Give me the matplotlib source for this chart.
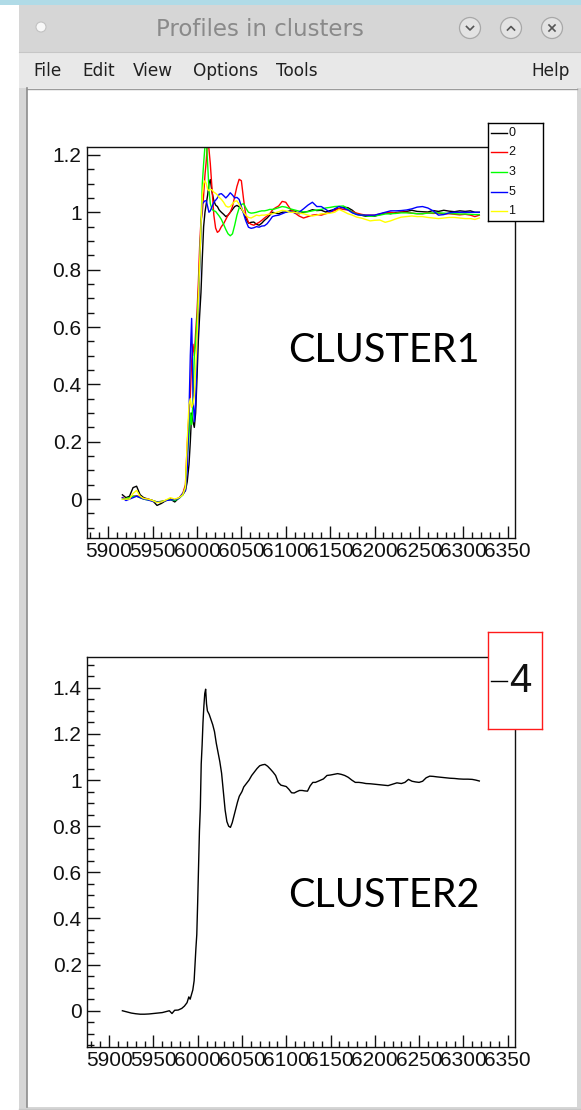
#perfis de absorção agrupados em clusters (janela do ROOT)

import numpy as np
import matplotlib
matplotlib.use('Agg')
import matplotlib.pyplot as plt
from matplotlib.patches import Rectangle, Circle
from matplotlib.colors import LinearSegmentedColormap
from matplotlib.ticker import MultipleLocator, FuncFormatter

plt.rcParams['font.family'] = ['Liberation Sans', 'DejaVu Sans']

#grade de energia (eV) comum aos perfis do cluster 1
energia1 = ([5916, 5920, 5924, 5928, 5932, 5936, 5940, 5945, 5950, 5955, 5960, 5965, 5970, 5975, 5980, 5984, 5987]
            + [5989, 5991, 5992.5, 5994, 5995.5, 5997, 5998.5, 6000, 6001.5, 6003, 6004.5, 6006, 6007.5, 6009,
               6010.5, 6012, 6013.5, 6015, 6017, 6019]
            + [6021, 6023, 6025, 6027.5, 6030, 6032.5, 6035, 6037.5, 6040, 6042.5, 6045, 6047.5, 6050, 6052.5,
               6055, 6058, 6061, 6064, 6067, 6070, 6073, 6076, 6079, 6082, 6085, 6088, 6092, 6096]
            + [6100, 6105, 6110, 6115, 6120, 6125, 6130, 6135, 6140, 6145, 6150, 6155, 6160, 6165, 6170, 6175,
               6180, 6185, 6190, 6195, 6200, 6206, 6212, 6218, 6224, 6230, 6236, 6242, 6248, 6254, 6260, 6266,
               6272, 6278, 6284, 6290, 6296, 6302, 6308, 6313, 6318])

perfil_0 = ([0.015, 0.005, 0.010, 0.040, 0.045, 0.015, 0.005, 0.000, -0.005, -0.022, -0.015, -0.005, 0.000, -0.010, 0.005, 0.015, 0.030]
            + [0.06, 0.12, 0.20, 0.30, 0.27, 0.25, 0.30, 0.42, 0.55, 0.64, 0.72, 0.84, 0.95, 1.00, 1.03, 1.06, 1.10, 1.114, 1.07, 1.04]
            + [1.025, 1.020, 1.008, 1.000, 0.993, 0.985, 0.990, 1.000, 1.010, 1.020, 1.024, 1.019, 1.012, 1.000,
               0.980, 0.962, 0.965, 0.966, 0.958, 0.955, 0.962, 0.972, 0.980, 0.990, 1.000, 0.998, 0.995, 1.000]
            + [1.001, 1.005, 1.004, 0.995, 1.000, 1.003, 1.009, 1.006, 1.007, 1.001, 1.006, 1.010, 1.013, 1.018,
               1.016, 1.007, 0.993, 0.990, 0.986, 0.988, 0.986, 0.993, 0.998, 0.995, 0.999, 1.001, 1.003, 1.007,
               1.003, 1.002, 1.001, 1.006, 1.003, 1.007, 1.004, 1.002, 1.005, 1.003, 1.005, 1.000, 1.000])

perfil_2 = ([0.005, 0.000, 0.005, 0.010, 0.012, 0.008, 0.002, 0.000, -0.005, -0.010, -0.008, -0.005, 0.000, -0.002, 0.005, 0.020, 0.050]
            + [0.19, 0.30, 0.36, 0.48, 0.54, 0.50, 0.58, 0.65, 0.75, 0.88, 0.97, 1.00, 1.06, 1.13, 1.18, 1.26, 1.22, 1.17, 1.08, 0.99]
            + [0.945, 0.930, 0.935, 0.950, 0.960, 0.975, 0.990, 1.000, 1.020, 1.055, 1.090, 1.115, 1.110, 1.045,
               0.990, 0.965, 0.958, 0.955, 0.960, 0.965, 0.972, 0.980, 0.987, 0.995, 1.008, 1.015, 1.022, 1.038]
            + [1.035, 1.012, 0.998, 0.987, 0.980, 0.985, 0.990, 0.992, 0.990, 0.995, 1.000, 1.006, 1.013, 1.010,
               1.008, 1.003, 0.997, 0.993, 0.990, 0.990, 0.990, 0.994, 0.998, 1.000, 0.997, 1.001, 1.000, 0.997,
               0.995, 0.995, 0.998, 0.996, 0.997, 0.994, 0.995, 0.993, 0.991, 0.993, 0.990, 0.985, 0.990])

perfil_3 = ([0.000, 0.002, 0.005, 0.010, 0.010, 0.005, 0.000, -0.003, -0.005, -0.010, -0.008, -0.005, -0.002, -0.005, 0.003, 0.015, 0.040]
            + [0.15, 0.22, 0.30, 0.26, 0.34, 0.50, 0.55, 0.62, 0.70, 0.82, 0.95, 1.10, 1.17, 1.23, 1.26, 1.17, 1.08, 1.03, 1.01, 1.005]
            + [1.003, 0.995, 0.987, 0.975, 0.958, 0.940, 0.925, 0.918, 0.925, 0.955, 0.990, 1.015, 1.027, 1.030,
               1.015, 1.000, 0.997, 0.998, 1.000, 1.003, 1.005, 1.005, 1.007, 1.010, 1.010, 1.012, 1.016, 1.020]
            + [1.018, 1.012, 1.008, 1.004, 1.001, 1.002, 1.005, 1.008, 1.010, 1.015, 1.017, 1.020, 1.021, 1.022,
               1.012, 1.000, 0.993, 0.990, 0.988, 0.986, 0.987, 0.990, 0.994, 0.995, 0.996, 0.998, 0.998, 0.997,
               0.995, 0.995, 0.997, 0.998, 0.998, 0.997, 0.996, 0.995, 0.994, 0.994, 0.993, 0.992, 0.992])

perfil_5 = ([0.005, -0.005, 0.000, 0.005, 0.010, 0.005, 0.000, -0.003, -0.008, -0.010, -0.010, -0.005, -0.003, -0.002, 0.003, 0.020, 0.030]
            + [0.10, 0.30, 0.50, 0.63, 0.37, 0.27, 0.33, 0.50, 0.63, 0.80, 0.95, 1.03, 1.035, 1.04, 1.04, 1.02, 1.00, 1.005, 1.02, 1.035]
            + [1.042, 1.050, 1.063, 1.065, 1.058, 1.050, 1.058, 1.068, 1.060, 1.050, 1.052, 1.045, 1.020, 0.995,
               0.970, 0.948, 0.944, 0.946, 0.950, 0.948, 0.952, 0.953, 0.960, 0.972, 0.985, 0.988, 0.990, 0.995]
            + [1.000, 1.003, 0.998, 1.000, 1.012, 1.025, 1.035, 1.020, 1.020, 1.010, 1.000, 1.012, 1.020, 1.015,
               1.008, 0.998, 0.992, 0.990, 0.990, 0.990, 0.990, 0.995, 1.000, 1.005, 1.005, 1.006, 1.008, 1.012,
               1.018, 1.020, 1.015, 1.005, 0.990, 0.992, 0.998, 1.000, 1.000, 1.000, 1.000, 1.000, 1.000])

perfil_1 = ([0.000, 0.000, 0.000, 0.020, 0.030, 0.010, 0.002, 0.000, -0.005, -0.012, -0.010, -0.003, 0.005, 0.000, 0.005, 0.015, 0.040]
            + [0.20, 0.33, 0.35, 0.32, 0.33, 0.36, 0.45, 0.55, 0.68, 0.82, 0.95, 1.06, 1.10, 1.11, 1.10, 1.08, 1.075, 1.08, 1.078, 1.07]
            + [1.066, 1.060, 1.052, 1.045, 1.035, 1.022, 1.018, 1.020, 1.030, 1.038, 1.040, 1.028, 1.015, 1.000,
               0.990, 0.982, 0.980, 0.985, 0.990, 0.988, 0.990, 0.990, 0.992, 0.994, 0.995, 0.998, 1.002, 1.007]
            + [1.005, 1.000, 1.000, 0.997, 0.995, 0.990, 0.987, 0.990, 0.995, 0.995, 0.997, 1.000, 1.010, 1.003,
               0.995, 0.990, 0.983, 0.980, 0.975, 0.970, 0.972, 0.973, 0.965, 0.970, 0.977, 0.983, 0.985, 0.987,
               0.985, 0.985, 0.982, 0.980, 0.978, 0.980, 0.982, 0.982, 0.980, 0.978, 0.978, 0.975, 0.980])

legenda1 = ['0', '2', '3', '5', '1']
cores1 = ['black', '#ff0000', '#00ff00', '#0000ff', '#ffff00']
perfis1 = [perfil_0, perfil_2, perfil_3, perfil_5, perfil_1]

#cluster 2: um único perfil
energia2 = [5915, 5920, 5925, 5930, 5935, 5940, 5945, 5950, 5955, 5960,
            5965, 5968, 5971, 5974, 5978, 5982, 5985, 5988, 5990, 5991.5,
            5993, 5994.5, 5996, 5997, 5998, 5999, 6000, 6001, 6002, 6003,
            6004, 6005, 6006, 6007, 6008, 6009, 6010, 6011, 6013, 6015,
            6017, 6019, 6021, 6023, 6025, 6027, 6029, 6031, 6033, 6035,
            6037, 6039, 6041, 6043, 6045, 6047, 6050, 6052, 6055, 6058,
            6061, 6064, 6067, 6070, 6073, 6076, 6079, 6082, 6085, 6088,
            6091, 6094, 6097, 6100, 6103, 6106, 6109, 6112, 6115, 6118,
            6121, 6124, 6127, 6130, 6133, 6136, 6139, 6142, 6146, 6150,
            6154, 6158, 6162, 6166, 6170, 6174, 6178, 6182, 6186, 6190,
            6195, 6200, 6205, 6210, 6215, 6220, 6225, 6230, 6234, 6238,
            6242, 6246, 6250, 6254, 6258, 6262, 6266, 6270, 6275, 6280,
            6285, 6290, 6295, 6300, 6305, 6310, 6314, 6318]
perfil_4 = [0.000, -0.005, -0.010, -0.013, -0.015, -0.015, -0.014, -0.012, -0.010, -0.008,
            -0.003, 0.000, -0.012, 0.002, 0.003, 0.010, 0.020, 0.035, 0.060, 0.050,
            0.070, 0.090, 0.130, 0.200, 0.270, 0.330, 0.470, 0.630, 0.780, 0.880,
            1.070, 1.150, 1.250, 1.320, 1.375, 1.394, 1.330, 1.300, 1.285, 1.262,
            1.240, 1.210, 1.160, 1.120, 1.080, 1.030, 0.950, 0.870, 0.820, 0.800,
            0.795, 0.815, 0.845, 0.875, 0.905, 0.930, 0.950, 0.970, 0.985, 1.000,
            1.020, 1.035, 1.050, 1.062, 1.066, 1.068, 1.060, 1.048, 1.035, 1.020,
            0.990, 0.978, 0.975, 0.972, 0.960, 0.945, 0.944, 0.950, 0.955, 0.955,
            0.953, 0.952, 0.975, 0.990, 0.990, 0.995, 1.000, 1.005, 1.020, 1.022,
            1.025, 1.028, 1.025, 1.020, 1.012, 1.000, 0.990, 0.990, 0.988, 0.985,
            0.984, 0.982, 0.980, 0.978, 0.976, 0.982, 0.988, 0.985, 0.990, 1.003,
            0.995, 0.992, 0.990, 0.995, 1.010, 1.017, 1.016, 1.014, 1.012, 1.010,
            1.008, 1.007, 1.005, 1.004, 1.004, 1.003, 1.000, 0.996]
legenda2 = ['4']

for p in perfis1:
    assert len(p) == len(energia1)
assert len(perfil_4) == len(energia2)

W, H = 581, 1110
fig = plt.figure(figsize=(W / 100, H / 100), dpi=100)


def caixa_fig(esq, topo, dir, base):
    #converte uma caixa em pixels (origem no canto superior esquerdo) para fração da figura
    return [esq / W, 1 - base / H, (dir - esq) / W, (base - topo) / H]


def limites_root(vals):
    #o TGraph deixa 10% de margem em volta dos dados
    lo, hi = min(vals), max(vals)
    d = hi - lo
    return lo - 0.1 * d, hi + 0.1 * d


#moldura da janela
fundo = fig.add_axes([0, 0, 1, 1])
fundo.axis('off')
fundo.add_patch(Rectangle((0, 0), W, 5, color='#b0dbe7', lw=0))
fundo.add_patch(Rectangle((19, 5), W - 19, H - 5, color='#d6d6d6', lw=0))
grad = np.linspace(0, 1, 60)[:, None]
cmap_titulo = LinearSegmentedColormap.from_list('titulo', ['#ebebeb', '#d2d2d2'])
fundo.imshow(grad, extent=(19, W, 52, 5), cmap=cmap_titulo, aspect='auto')
fundo.add_patch(Rectangle((19, 52), W - 19, 36, color='#e8e8e8', lw=0))
fundo.plot([19, W], [52, 52], color='#c6c6c6', lw=0.8)
fundo.add_patch(Rectangle((27, 88), 550, 1019, color='white', lw=0))
fundo.plot([27, 577], [88.5, 88.5], color='#9c9c9c', lw=1.0)
fundo.plot([27, 27], [88, 1107], color='#8c8c8c', lw=1.2)
fundo.plot([19, W], [1108.5, 1108.5], color='#c8c8c8', lw=1.0)

fundo.text(260, 29, 'Profiles in clusters', ha='center', va='center', fontsize=16.5,
           color='#8a8a8a', family='DejaVu Sans')
fundo.add_patch(Circle((41, 27), 5, fc='#f8f8f8', ec='#c2c2c2', lw=0.8))
for bx in (470, 511, 552):
    fundo.add_patch(Circle((bx, 28), 10.5, fc='#e3e3e3', ec='#a8a8a8', lw=0.9))
fundo.plot([466.5, 470, 473.5], [26.5, 30, 26.5], color='#555555', lw=1.2)
fundo.plot([507.5, 511, 514.5], [30, 26.5, 30], color='#555555', lw=1.2)
fundo.plot([549, 555], [25, 31], color='#555555', lw=1.2)
fundo.plot([549, 555], [31, 25], color='#555555', lw=1.2)

#barra de menus
menus = ['File', 'Edit', 'View', 'Options', 'Tools']
menus_x = [33, 82, 133, 193, 276]
for nome, mx in zip(menus, menus_x):
    fundo.text(mx, 71, nome, va='center', ha='left', fontsize=12.2, color='#202020', family='DejaVu Sans')
fundo.text(570, 71, 'Help', va='center', ha='right', fontsize=12.2, color='#202020', family='DejaVu Sans')
fundo.set_xlim(0, W)
fundo.set_ylim(H, 0)


def formata_eixo(ax, energia, ref):
    ax.set_xlim(*limites_root(energia))
    ax.set_ylim(*limites_root(ref))
    ax.xaxis.set_major_locator(MultipleLocator(50))
    ax.xaxis.set_minor_locator(MultipleLocator(10))
    ax.yaxis.set_major_locator(MultipleLocator(0.2))
    ax.yaxis.set_minor_locator(MultipleLocator(0.05))
    ax.xaxis.set_major_formatter(FuncFormatter(lambda v, p: f'{v:.0f}'))
    ax.yaxis.set_major_formatter(FuncFormatter(lambda v, p: '0' if abs(v) < 1e-9 else f'{round(v, 6):g}'))
    ax.tick_params(which='both', direction='in', top=False, right=False, width=1.0, color='#111111')
    ax.tick_params(axis='y', which='major', length=9.4, pad=3.6, labelsize=15, labelcolor='#111111')
    ax.tick_params(axis='y', which='minor', length=4.7)
    ax.tick_params(axis='x', which='major', length=8.6, pad=3.0, labelsize=15, labelcolor='#111111')
    ax.tick_params(axis='x', which='minor', length=4.3)
    for s in ax.spines.values():
        s.set_linewidth(1.0)
        s.set_color('#111111')


def legenda_root(caixa, rotulos, cores, tamanho, cor_borda, x_texto):
    axl = fig.add_axes(caixa_fig(*caixa))
    axl.set_xlim(0, 1)
    axl.set_ylim(0, 1)
    axl.set_xticks([])
    axl.set_yticks([])
    for s in axl.spines.values():
        s.set_color(cor_borda)
        s.set_linewidth(1.0)
    n = len(rotulos)
    for i, (r, c) in enumerate(zip(rotulos, cores)):
        y = 1 - (i + 0.5) / n
        axl.plot([0.055, 0.345], [y, y], color=c, lw=1.0)
        axl.text(x_texto, y, r, fontsize=tamanho, va='center', ha='left', color='#111111')


#cluster 1
ax1 = fig.add_axes(caixa_fig(86.7, 147, 515, 538))
for perfil, cor in zip(perfis1, cores1):
    ax1.plot(energia1, perfil, color=cor, lw=1.0)
formata_eixo(ax1, energia1, perfil_0)
legenda_root((488, 123, 543, 221), legenda1, cores1, 9, 'black', 0.37)
fig.text(288 / W, 1 - 362 / H, 'CLUSTER1', fontsize=28.5, family='Lato', va='baseline', ha='left')

#cluster 2
ax2 = fig.add_axes(caixa_fig(86.7, 656.7, 515, 1046.7))
ax2.plot(energia2, perfil_4, color='black', lw=1.0)
formata_eixo(ax2, energia2, perfil_4)
legenda_root((488, 632, 542, 729), legenda2, ['black'], 29, '#ff1a1a', 0.40)
fig.text(288 / W, 1 - 907 / H, 'CLUSTER2', fontsize=28.5, family='Lato', va='baseline', ha='left')

fig.savefig('out.png', dpi=100)
